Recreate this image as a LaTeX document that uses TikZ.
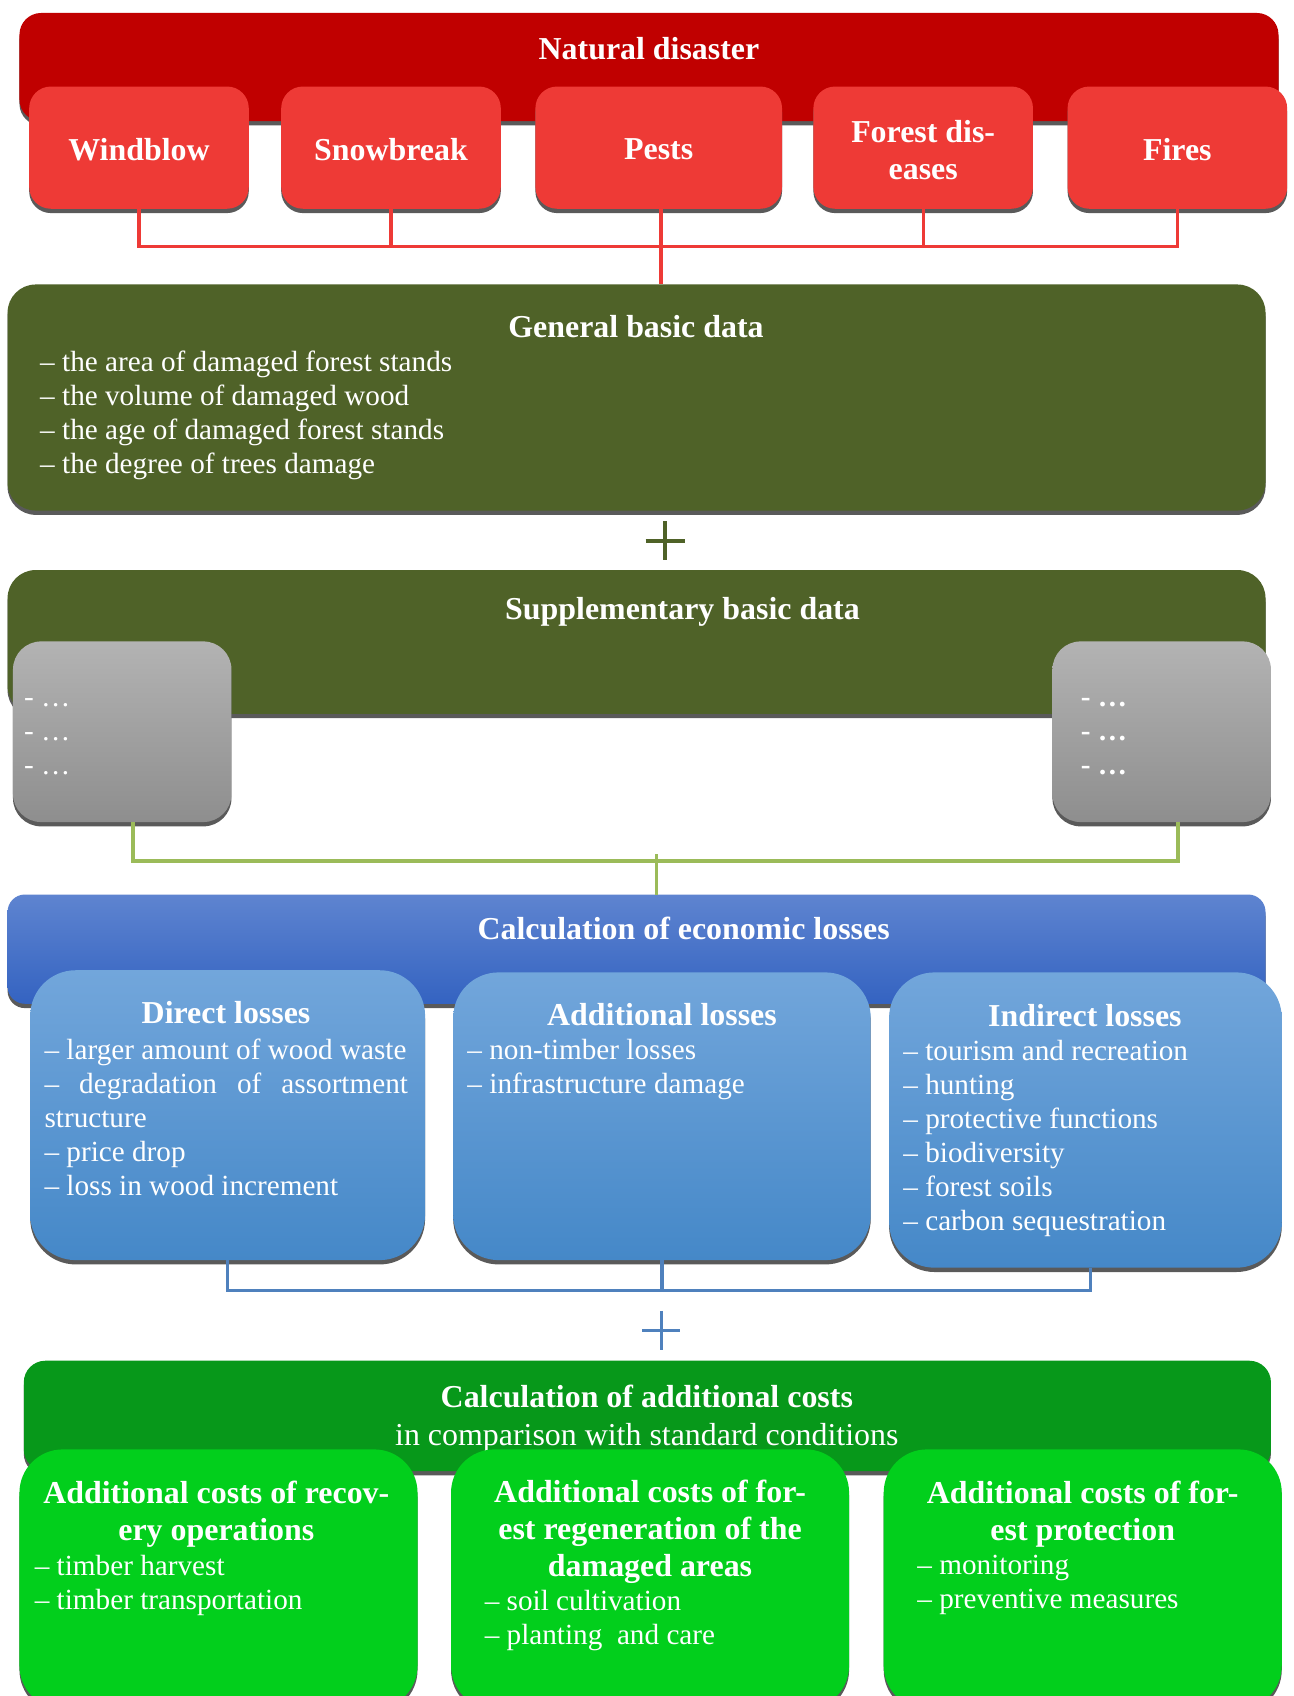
\documentclass[tikz,border=0pt]{standalone}
\usepackage{fontspec}
\setmainfont{Liberation Serif}
\usetikzlibrary{shadows}
\definecolor{redouter}{HTML}{C00000}
\definecolor{redsub}{HTML}{EE3A36}
\definecolor{olive}{HTML}{4F6228}
\definecolor{grayt}{HTML}{B3B3B3}
\definecolor{grayb}{HTML}{8E8E8E}
\definecolor{greenline}{HTML}{9BBB59}
\definecolor{bluet}{HTML}{5E84D0}
\definecolor{blueb}{HTML}{3463C1}
\definecolor{bsubt}{HTML}{72A6DB}
\definecolor{bsubb}{HTML}{4588C8}
\definecolor{blueline}{HTML}{4F81BD}
\definecolor{dgreen}{HTML}{07981A}
\definecolor{bgreen}{HTML}{02CF1C}
\definecolor{shadowc}{HTML}{5A5A5A}
\tikzset{
  shad/.style={drop shadow={shadow xshift=0pt, shadow yshift=-4pt, fill=shadowc, opacity=1}},
  boxbase/.style={shad, draw=none, inner sep=0pt, outer sep=0pt},
  redbig/.style={boxbase, fill=redouter, rounded corners=20pt},
  redbox/.style={boxbase, fill=redsub, rounded corners=20pt},
  olivebox/.style={boxbase, fill=olive, rounded corners=26pt},
  graybox/.style={boxbase, top color=grayt, bottom color=grayb, rounded corners=26pt},
  bluebig/.style={boxbase, top color=bluet, bottom color=blueb, rounded corners=16pt},
  bluebox/.style={boxbase, top color=bsubt, bottom color=bsubb, rounded corners=42pt},
  dgreenbox/.style={boxbase, fill=dgreen, rounded corners=20pt},
  bgreenbox/.style={boxbase, fill=bgreen, rounded corners=40pt},
  ttl/.style={text=white, font=\fontsize{29.5}{34}\selectfont\bfseries, align=center, inner sep=0pt},
  sub/.style={text=white, font=\fontsize{29.5}{34}\selectfont, align=center, inner sep=0pt},
  itm/.style={text=white, font=\fontsize{27}{31.3}\selectfont, align=left, inner sep=0pt, anchor=west},
  redc/.style={draw=redsub, line width=3pt},
  greenc/.style={draw=greenline, line width=3pt},
  bluec/.style={draw=blueline, line width=3pt},
}
\begin{document}
\begin{tikzpicture}[x=1pt,y=-1pt]
\useasboundingbox (0,0) rectangle (1196,1568);
\fill[white] (0,0) rectangle (1196,1568);
\clip (0,0) rectangle (1196,1568);

% ---------- Natural disaster ----------
\node[redbig, minimum width=1164pt, minimum height=100pt] (nd) at (600,62) {};
\node[ttl] (ndt) at (600,45) {Natural disaster};
\node[redbox, minimum width=203pt, minimum height=113pt] (wind) at (128.5,136.5) {};
\node[redbox, minimum width=203pt, minimum height=113pt] (snow) at (361.5,136.5) {};
\node[redbox, minimum width=228pt, minimum height=113pt] (pests) at (609,136.5) {};
\node[redbox, minimum width=203pt, minimum height=113pt] (fd) at (853.5,136.5) {};
\node[redbox, minimum width=203pt, minimum height=113pt] (fires) at (1088.5,136.5) {};
\node[ttl] (windt) at (128.5,138) {Windblow};
\node[ttl] (snowt) at (361.5,138) {Snowbreak};
\node[ttl] (pestst) at (609,138) {Pests};
\node[ttl] (fdt) at (853.5,139) {Forest dis-\\eases};
\node[ttl] (firest) at (1088.5,138) {Fires};

% ---------- General basic data ----------
\node[olivebox, minimum width=1163pt, minimum height=209pt] (gen) at (588.5,367.5) {};
\node[ttl] (gent) at (588,302) {General basic data};
\node[itm] (genl) at (37,384) {– the area of damaged forest stands\\– the volume of damaged wood\\– the age of damaged forest stands\\– the degree of trees damage};

% red connectors
\coordinate (rj) at (611,228);
\draw[redc] (wind.south) |- (fires.south |- rj) -- (fires.south);
\draw[redc] (snow.south) -- (snow.south |- rj);
\draw[redc] (fd.south) -- (fd.south |- rj);
\draw[redc] ([xshift=2pt]pests.south) -- ([xshift=2pt]pests.south |- gen.north);

% plus
\draw[olive, line width=3.2pt] (597,500) -- (633,500) (615,482) -- (615,518);

% ---------- Supplementary basic data ----------
\node[olivebox, minimum width=1163pt, minimum height=133pt] (supp) at (588.5,593.5) {};
\node[ttl] (suppt) at (631,566) {Supplementary basic data};
\node[graybox, minimum width=202pt, minimum height=167pt] (lgray) at (113,676.5) {};
\node[graybox, minimum width=202pt, minimum height=167pt] (rgray) at (1074,676.5) {};
\node[itm] (lgrayt) at (22,681) {- …\\- …\\- …};
\node[itm, font=\fontsize{27}{31.3}\selectfont\bfseries] (rgrayt) at (999,681) {- …\\- …\\- …};

% green connectors
\coordinate (gj) at (607,796);
\draw[greenc] ([xshift=10pt]lgray.south) |- ([xshift=15pt]rgray.south |- gj) -- ([xshift=15pt]rgray.south);

% ---------- Calculation of economic losses ----------
\node[bluebig, minimum width=1163pt, minimum height=101pt] (calc) at (588.5,877.5) {};
\draw[greenc] ([yshift=6pt]gj) -- (gj |- calc.north);
\node[ttl] (calct) at (632,858) {Calculation of economic losses};
\node[bluebox, minimum width=365pt, minimum height=268pt] (direct) at (210.5,1031) {};
\node[bluebox, minimum width=386pt, minimum height=266pt] (addl) at (612,1032) {};
\node[bluebox, minimum width=363pt, minimum height=273pt] (indir) at (1003.5,1035.5) {};
\node[ttl] (directt) at (209,936) {Direct losses};
\node[itm] (directl) at (41,1033) {– larger amount of wood waste\\\makebox[336pt][s]{– degradation of assortment}\\structure\\– price drop\\– loss in wood increment};
\node[ttl] (addlt) at (612,938) {Additional losses};
\node[itm] (addll) at (432,989) {– non-timber losses\\– infrastructure damage};
\node[ttl] (indirt) at (1003,939) {Indirect losses};
\node[itm] (indirl) at (835,1052.5) {– tourism and recreation\\– hunting\\– protective functions\\– biodiversity\\– forest soils\\– carbon sequestration};

% blue connectors
\coordinate (bj) at (612,1193);
\draw[bluec] (direct.south) |- ([xshift=4.5pt]indir.south |- bj) -- ([xshift=4.5pt]indir.south);
\draw[bluec] (addl.south) -- (addl.south |- bj);

% plus
\draw[blueline, line width=3.2pt] (594,1230) -- (629,1230) (611.5,1212) -- (611.5,1248);

% ---------- Calculation of additional costs ----------
\node[dgreenbox, minimum width=1153pt, minimum height=102pt] (acost) at (598.5,1309) {};
\node[ttl] (acostt) at (598,1291) {Calculation of additional costs};
\node[sub] (acosts) at (598,1329) {in comparison with standard conditions};
\node[bgreenbox, minimum width=368pt, minimum height=240pt] (g1) at (202,1460) {};
\node[bgreenbox, minimum width=368pt, minimum height=240pt] (g2) at (601,1460) {};
\node[bgreenbox, minimum width=368pt, minimum height=240pt] (g3) at (1001,1460) {};
\node[ttl] (g1t) at (200,1400) {Additional costs of recov-\\ery operations};
\node[itm] (g1l) at (32,1465.5) {– timber harvest\\– timber transportation};
\node[ttl] (g2t) at (601,1416) {Additional costs of for-\\est regeneration of the\\damaged areas};
\node[itm] (g2l) at (448,1498.5) {– soil cultivation\\– planting\ \ and care};
\node[ttl] (g3t) at (1001,1400) {Additional costs of for-\\est protection};
\node[itm] (g3l) at (848,1465.5) {– monitoring\\– preventive measures};
\end{tikzpicture}
\end{document}
